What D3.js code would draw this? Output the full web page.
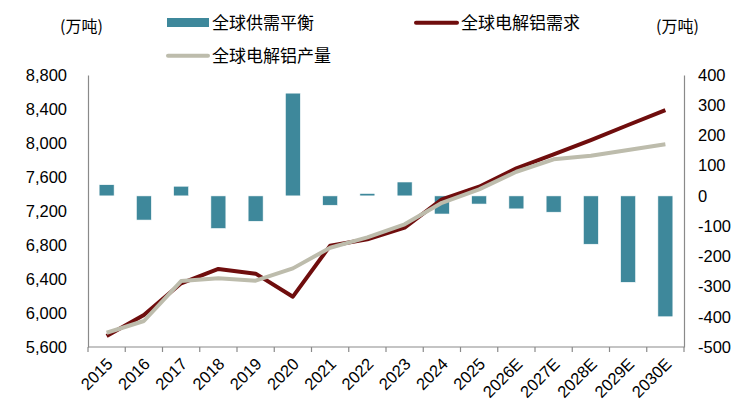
<!DOCTYPE html>
<html><head><meta charset="utf-8">
<script src="https://cdn.jsdelivr.net/npm/d3@7/dist/d3.min.js"></script>
<style>body{margin:0;background:#fff}svg{display:block}</style>
</head><body>
<svg id="c" width="754" height="420"></svg>
<script>
const categories = ["2015","2016","2017","2018","2019","2020","2021","2022","2023","2024","2025","2026E","2027E","2028E","2029E","2030E"];
const balance = [37,-80,32,-108,-84,340,-31,8,46,-60,-27,-43,-54,-160,-286,-400];
const demand = [5729,5976,6349,6518,6463,6192,6792,6867,7004,7337,7486,7702,7867,8035,8212,8388];
const production = [5768,5906,6376,6408,6380,6525,6768,6890,7043,7296,7455,7662,7808,7851,7918,7985];
const leftTicks = [5600,6000,6400,6800,7200,7600,8000,8400,8800];
const rightTicks = [-500,-400,-300,-200,-100,0,100,200,300,400];
const labels = {balance:"全球供需平衡", demand:"全球电解铝需求", production:"全球电解铝产量", unit:"(万吨)"};

const colBar = "#3E889B", colDem = "#6F0D0D", colProd = "#BDBCAC", axisCol = "#8a8a8a";
const cjk = "'Noto Sans CJK SC', 'Noto Sans', sans-serif";
const lat = "'Liberation Sans', Arial, sans-serif";
const fs = 16.5;

const svg = d3.select("#c");
const L = 88, R = 684, T = 75, B = 347;

const xb = d3.scaleBand().domain(categories).range([L, R]);
const yL = d3.scaleLinear().domain([5600, 8800]).range([B, T]);
const yR = d3.scaleLinear().domain([-500, 400]).range([B, T]);
const cx = d => xb(d) + xb.bandwidth()/2;

// bars
svg.append("g").selectAll("rect").data(balance).join("rect")
  .attr("x", (d,i) => cx(categories[i]) - 7.5)
  .attr("width", 15)
  .attr("y", d => yR(Math.max(0, d)))
  .attr("height", d => Math.abs(yR(d) - yR(0)))
  .attr("fill", colBar).attr("stroke", "#fff").attr("stroke-width", 0.6);

const line = d3.line().x((d,i) => cx(categories[i]));
svg.append("path").datum(demand)
  .attr("d", line.y(d => yL(d))).attr("fill","none").attr("stroke", colDem).attr("stroke-width", 4).attr("stroke-linejoin","round");
svg.append("path").datum(production)
  .attr("d", line.y(d => yL(d))).attr("fill","none").attr("stroke", colProd).attr("stroke-width", 4).attr("stroke-linejoin","round");

// axes
const axL = svg.append("g").attr("transform", `translate(${L},0)`)
  .call(d3.axisLeft(yL).tickValues(leftTicks).tickSize(0).tickPadding(21).tickFormat(d3.format(",")));
const axR = svg.append("g").attr("transform", `translate(${R},0)`)
  .call(d3.axisRight(yR).tickValues(rightTicks).tickSize(0).tickPadding(14).tickFormat(d => String(d)));
[axL, axR].forEach(a => {
  a.select(".domain").attr("stroke", axisCol).attr("stroke-width", 1.2);
  a.selectAll("text").attr("font-family", lat).attr("font-size", fs).attr("fill", "#000");
});
// bottom axis
const axB = svg.append("g").attr("transform", `translate(0,${B})`);
axB.append("line").attr("x1", L).attr("x2", R).attr("stroke", axisCol).attr("stroke-width", 1.2);
axB.selectAll("line.t").data(categories.concat(["end"])).join("line").attr("class","t")
  .attr("x1", (d,i) => L + i*xb.step()).attr("x2", (d,i) => L + i*xb.step())
  .attr("y1", 0).attr("y2", 5).attr("stroke", axisCol).attr("stroke-width", 1.2);
axB.selectAll("text").data(categories).join("text")
  .attr("transform", d => `translate(${cx(d) + 3},${14}) rotate(-45)`)
  .attr("text-anchor", "end").attr("dy", "0.35em")
  .attr("font-family", lat).attr("font-size", fs).attr("fill", "#000").text(d => d);

// unit labels
svg.append("text").attr("x", 60).attr("y", 32).attr("font-family", cjk).attr("font-size", 16).text(labels.unit);
svg.append("text").attr("x", 656).attr("y", 32).attr("font-family", cjk).attr("font-size", 16).text(labels.unit);

// legend
const lg = svg.append("g");
lg.append("rect").attr("x", 167).attr("y", 18).attr("width", 42).attr("height", 9).attr("fill", colBar);
lg.append("text").attr("x", 212).attr("y", 29).attr("font-family", cjk).attr("font-size", 17).text(labels.balance);
lg.append("line").attr("x1", 416).attr("x2", 457).attr("y1", 22.7).attr("y2", 22.7).attr("stroke", colDem).attr("stroke-width", 4).attr("stroke-linecap","round");
lg.append("text").attr("x", 461).attr("y", 29).attr("font-family", cjk).attr("font-size", 17).text(labels.demand);
lg.append("line").attr("x1", 168).attr("x2", 208).attr("y1", 55.7).attr("y2", 55.7).attr("stroke", colProd).attr("stroke-width", 4).attr("stroke-linecap","round");
lg.append("text").attr("x", 212).attr("y", 62).attr("font-family", cjk).attr("font-size", 17).text(labels.production);
</script>
</body></html>
